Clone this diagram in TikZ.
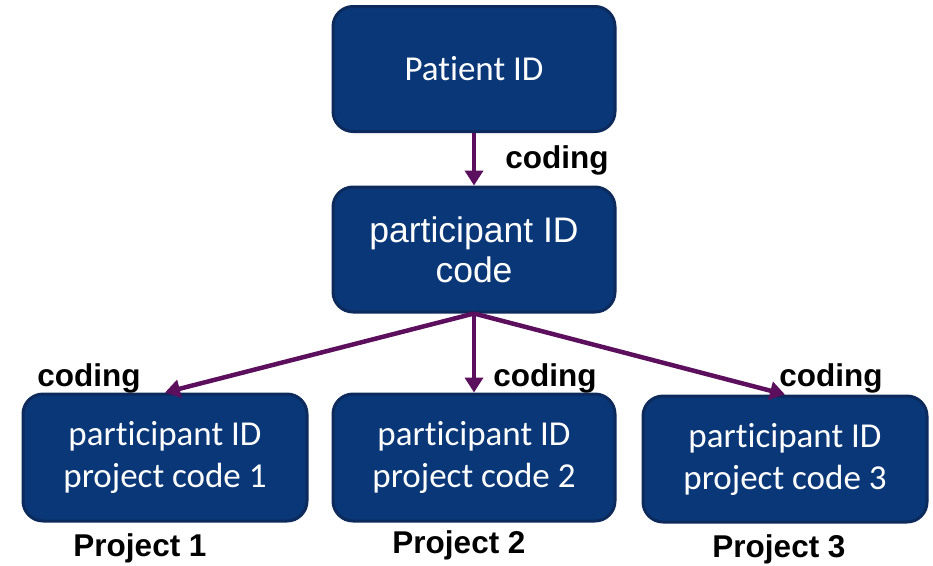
\documentclass[tikz,border=0pt]{standalone}
\usepackage{fontspec}
\setmainfont{Carlito}[Ligatures=NoCommon]
\newfontfamily\arialfont{Liberation Sans}
\usepackage{tikz}
\usetikzlibrary{arrows.meta, positioning}

\definecolor{idblue}{HTML}{0A3777}
\definecolor{idborder}{HTML}{0C2A5C}
\definecolor{codepurple}{HTML}{5C0F5C}

\tikzset{
	idbox/.style={draw=idborder, line width=3pt, fill=idblue, rounded corners=20pt,
		text=white, align=center, minimum width=282pt, minimum height=125pt,
		font=\fontsize{35}{42}\selectfont},
	codearrow/.style={draw=codepurple, line width=4.5pt, -{Triangle[width=18pt,length=15pt]}},
	codelabel/.style={font=\arialfont\bfseries\fontsize{31.5}{36}\selectfont}
}

\begin{document}
\begin{tikzpicture}[x=1pt, y=-1pt]
		\useasboundingbox (0,0) rectangle (933,565);
		
		\node (patientid) [idbox] at (474,69) {Patient ID};
		\node (partcode) [idbox, font=\arialfont\fontsize{35.5}{40}\selectfont] at (474,249.5) {participant ID\\code};
		
		\draw [codearrow] (patientid) -- (partcode);
		\node (coding0) [codelabel] at (557,160) {coding};
		
		\node (proj1code) [idbox, minimum width=284pt, minimum height=127pt] at (165,457.5) {participant ID\\project code 1};
		\node (proj2code) [idbox, minimum height=127pt] at (474,457.5) {participant ID\\project code 2};
		\node (proj3code) [idbox, minimum width=284pt, minimum height=126pt] at (785,459) {participant ID\\project code 3};
		
		\draw [codearrow] (partcode.south) -- (proj1code.north);
		\draw [codearrow] (partcode.south) -- (proj2code.north);
		\draw [codearrow] (partcode.south) -- (proj3code.north);
		
		\node (coding1) [codelabel] at (89,378) {coding};
		\node (coding2) [codelabel] at (545,378) {coding};
		\node (coding3) [codelabel] at (831,378) {coding};
		
		\node (project1) [codelabel] at (140,548) {Project 1};
		\node (project2) [codelabel] at (459,545) {Project 2};
		\node (project3) [codelabel] at (779,549) {Project 3};
		
	\end{tikzpicture}
\end{document}
